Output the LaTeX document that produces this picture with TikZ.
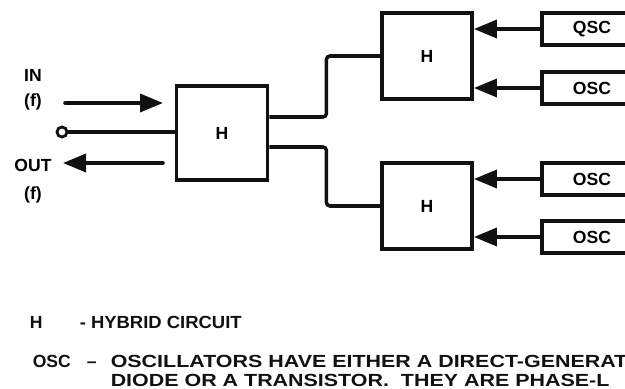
\documentclass[tikz,border=0pt]{standalone}
\usepackage{fontspec}
\setsansfont{Liberation Sans}
\newfontfamily\keyfont[FakeStretch=1.22]{Liberation Sans}
\newfontfamily\keyfontn[FakeStretch=1.05]{Liberation Sans}
\usetikzlibrary{arrows.meta, positioning, calc}
\definecolor{cink}{HTML}{111111}
\tikzset{
  every picture/.style={font=\sffamily\bfseries, line width=2pt},
  box/.style={draw=cink, fill=white, minimum width=1.8cm, minimum height=1.72cm, inner sep=0pt, line width=2.2pt},
  oscbox/.style={draw=cink, fill=white, minimum width=2cm, minimum height=0.64cm, inner sep=0pt, line width=2.2pt},
  arrow/.style={-{Triangle[length=4.6mm, width=3.6mm]}, draw=cink, line width=2pt, line cap=round},
  wire/.style={draw=cink, line width=2pt},
  note/.style={font=\sffamily\bfseries\fontsize{10}{11}\selectfont, text=cink, inner sep=0pt},
}

\begin{document}
\begin{tikzpicture}[lbl/.style={font=\sffamily\bfseries\fontsize{10}{12}\selectfont, align=center, inner sep=0pt},
  port/.style={circle, draw=cink, fill=white, line width=1.6pt, minimum size=0.2cm, inner sep=0pt}]
  \useasboundingbox (0,0) rectangle (12.5,7.76);
  \clip (0,0) rectangle (12.5,7.76);
  % hybrids
  \node[box, minimum width=1.82cm, minimum height=1.88cm] (hm) at (4.44, 5.10) {H};
  \node[box] (hu) at (8.54, 6.64) {H};
  \node[box] (hd) at (8.54, 3.64) {H};
  % oscillators
  \node[oscbox] (o1) at (11.84, 7.18) {QSC};
  \node[oscbox] (o2) at (11.84, 6.00) {OSC};
  \node[oscbox] (o3) at (11.84, 4.18) {OSC};
  \node[oscbox] (o4) at (11.84, 3.02) {OSC};
  \draw[arrow] (o1.west) -- (o1.west -| hu.east); \draw[arrow] (o2.west) -- (o2.west -| hu.east);
  \draw[arrow] (o3.west) -- (o3.west -| hd.east); \draw[arrow] (o4.west) -- (o4.west -| hd.east);
  % branches
  \draw[wire, rounded corners=2pt] ([yshift=3.2mm]hm.east) -- ++(1.14,0) |- (hu.west);
  \draw[wire, rounded corners=2pt] ([yshift=-2.8mm]hm.east) -- ++(1.14,0) |- (hd.west);
  % port
  \node[port] (pt) at (1.24, 5.12) {};
  \draw[wire] (pt) -- (pt -| hm.west);
  \coordinate (inA) at (1.30, 5.70); \coordinate (inB) at (3.26, 5.70);
  \coordinate (outA) at (3.26, 4.50); \coordinate (outB) at (1.26, 4.50);
  \draw[arrow] (inA) -- (inB); \draw[arrow] (outA) -- (outB);
  \node[lbl] (inl) at (0.66, 5.97) {IN\\[2pt](f)};
  \node[lbl] (outl) at (0.66, 4.14) {OUT\\[4pt](f)};
  % key
  \node[note, anchor=base west] (kh) at (0.56, 1.20) {H};
  \node[note, anchor=base west] (khd) at (1.56, 1.20) {\keyfontn - HYBRID CIRCUIT};
  \node[note, anchor=base west] (ko) at (0.62, 0.42) {OSC};
  \node[note, anchor=base west] (kod) at (1.70, 0.42) {--};
  \node[note, anchor=base west] (kt1) at (2.18, 0.42) {\keyfont OSCILLATORS HAVE EITHER A DIRECT-GENERAT};
  \node[note, anchor=base west] (kt2) at (2.18, 0.04) {\keyfont DIODE OR A TRANSISTOR.\ \ THEY ARE PHASE-L};
\end{tikzpicture}
\end{document}
